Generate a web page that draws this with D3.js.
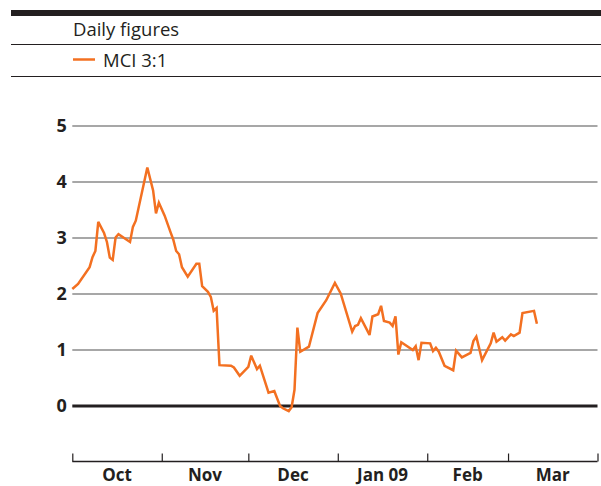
<!DOCTYPE html>
<html>
<head>
<meta charset="utf-8">
<script src="https://cdn.jsdelivr.net/npm/d3@7"></script>
<style>
  html, body { margin: 0; padding: 0; background: #ffffff; }
  svg { display: block; }
  text { font-family: "Open Sans", "Noto Sans", sans-serif; fill: #231f20; }
</style>
</head>
<body>
<svg id="chart" width="601" height="486"></svg>
<script>
// MCI 3:1 daily readings, Oct 2008 – Mar 2009
const dates = [
  "2008-10-01","2008-10-03","2008-10-07","2008-10-08","2008-10-09","2008-10-10",
  "2008-10-12","2008-10-13","2008-10-14","2008-10-15","2008-10-16","2008-10-17",
  "2008-10-21","2008-10-22","2008-10-23","2008-10-27","2008-10-29","2008-10-30",
  "2008-10-31","2008-11-02","2008-11-04","2008-11-05","2008-11-06","2008-11-07",
  "2008-11-08","2008-11-10","2008-11-13","2008-11-14","2008-11-15","2008-11-17",
  "2008-11-18","2008-11-19","2008-11-20","2008-11-21","2008-11-25","2008-11-26",
  "2008-11-28","2008-12-01","2008-12-02","2008-12-04","2008-12-05","2008-12-08",
  "2008-12-10","2008-12-12","2008-12-13","2008-12-15","2008-12-16","2008-12-17",
  "2008-12-18","2008-12-19","2008-12-22","2008-12-25","2008-12-28","2008-12-31",
  "2009-01-02","2009-01-06","2009-01-07","2009-01-08","2009-01-09","2009-01-12",
  "2009-01-13","2009-01-15","2009-01-16","2009-01-17","2009-01-19","2009-01-20",
  "2009-01-21","2009-01-22","2009-01-23","2009-01-27","2009-01-28","2009-01-29",
  "2009-01-30","2009-02-02","2009-02-03","2009-02-04","2009-02-05","2009-02-07",
  "2009-02-10","2009-02-11","2009-02-13","2009-02-16","2009-02-17","2009-02-18",
  "2009-02-20","2009-02-23","2009-02-24","2009-02-25","2009-02-27","2009-02-28",
  "2009-03-02","2009-03-03","2009-03-05","2009-03-06","2009-03-10","2009-03-11"
];
const mci = [
  2.08, 2.17, 2.47, 2.65, 2.76, 3.28,
  3.08, 2.92, 2.64, 2.60, 3.00, 3.06,
  2.92, 3.19, 3.30, 4.25, 3.84, 3.43,
  3.62, 3.39, 3.10, 2.96, 2.76, 2.70,
  2.47, 2.30, 2.53, 2.53, 2.13, 2.03,
  1.94, 1.69, 1.74, 0.72, 0.71, 0.68,
  0.53, 0.69, 0.89, 0.65, 0.71, 0.23,
  0.26, -0.01, -0.05, -0.10, -0.03, 0.28,
  1.39, 0.96, 1.05, 1.65, 1.88, 2.19,
  2.00, 1.32, 1.42, 1.44, 1.56, 1.26,
  1.59, 1.63, 1.78, 1.51, 1.48, 1.42,
  1.59, 0.91, 1.13, 0.99, 1.06, 0.81,
  1.12, 1.11, 0.97, 1.03, 0.96, 0.71,
  0.63, 0.98, 0.86, 0.94, 1.15, 1.23,
  0.81, 1.11, 1.30, 1.14, 1.22, 1.16,
  1.27, 1.24, 1.30, 1.65, 1.69, 1.46
];
const yTicks = [0, 1, 2, 3, 4, 5];
const monthStarts = ["2008-10-01","2008-11-01","2008-12-01","2009-01-01","2009-02-01","2009-03-01","2009-04-01"];
const monthLabels = ["Oct", "Nov", "Dec", "Jan 09", "Feb", "Mar"];
const subtitle = "Daily figures";
const seriesName = "MCI 3:1";

const parse = d3.utcParse("%Y-%m-%d");
const series = dates.map((d, i) => ({ date: parse(d), value: mci[i] }));
const bounds = monthStarts.map(parse);

const ink = "#231f20";
const orange = "#f37021";
const svg = d3.select("#chart");

// Header rules and legend
svg.append("rect").attr("x", 11).attr("y", 10).attr("width", 590).attr("height", 6).attr("fill", ink);
svg.append("text").attr("x", 73).attr("y", 36).attr("font-size", 18.5).text(subtitle);
svg.append("line").attr("x1", 11).attr("x2", 601).attr("y1", 44.5).attr("y2", 44.5)
  .attr("stroke", ink).attr("stroke-width", 1);
svg.append("line").attr("x1", 73).attr("x2", 95).attr("y1", 59.5).attr("y2", 59.5)
  .attr("stroke", orange).attr("stroke-width", 2.5);
svg.append("text").attr("x", 103).attr("y", 66.5).attr("font-size", 18.5).text(seriesName);
svg.append("line").attr("x1", 11).attr("x2", 601).attr("y1", 76.5).attr("y2", 76.5)
  .attr("stroke", ink).attr("stroke-width", 1);

// Scales
const x = d3.scaleUtc().domain([bounds[0], bounds[bounds.length - 1]]).range([72.3, 597.5]);
const y = d3.scaleLinear().domain([0, 5]).range([405.5, 125.5]);

// Horizontal gridlines via a left axis with full-width ticks
const grid = svg.append("g").attr("transform", "translate(72.3,0)")
  .call(d3.axisLeft(y).tickValues(yTicks).tickSize(-(597.5 - 72.3)).tickFormat(d3.format("d")));
grid.select(".domain").remove();
grid.selectAll(".tick line")
  .attr("stroke", d => d === 0 ? ink : "#8a8a8a")
  .attr("stroke-width", d => d === 0 ? 3 : 1.5);
grid.selectAll(".tick text")
  .attr("x", -5.5)
  .attr("font-size", 18).attr("font-weight", "bold")
  .attr("font-family", "'Open Sans', sans-serif")
  .attr("fill", ink);

// Bottom month axis
const axisY = 461.5;
const xAxis = svg.append("g").attr("transform", `translate(0,${axisY})`)
  .call(d3.axisTop(x).tickValues(bounds).tickSize(8).tickFormat(""));
xAxis.select(".domain").attr("stroke", ink).attr("stroke-width", 1.5)
  .attr("d", `M${x.range()[0]},0H${x.range()[1]}`);
xAxis.selectAll(".tick line").attr("stroke", ink).attr("stroke-width", 1.2);

svg.append("g").selectAll("text")
  .data(monthLabels)
  .join("text")
  .attr("x", (d, i) => (x(bounds[i]) + x(bounds[i + 1])) / 2)
  .attr("y", 481)
  .attr("text-anchor", "middle")
  .attr("font-size", 17).attr("font-weight", "bold")
  .text(d => d);

// Series line
const line = d3.line().x(d => x(d.date)).y(d => y(d.value)).curve(d3.curveLinear);
svg.append("path").datum(series)
  .attr("d", line)
  .attr("fill", "none")
  .attr("stroke", orange)
  .attr("stroke-width", 2.5)
  .attr("stroke-linejoin", "miter")
  .attr("stroke-miterlimit", 3);
</script>
</body>
</html>
